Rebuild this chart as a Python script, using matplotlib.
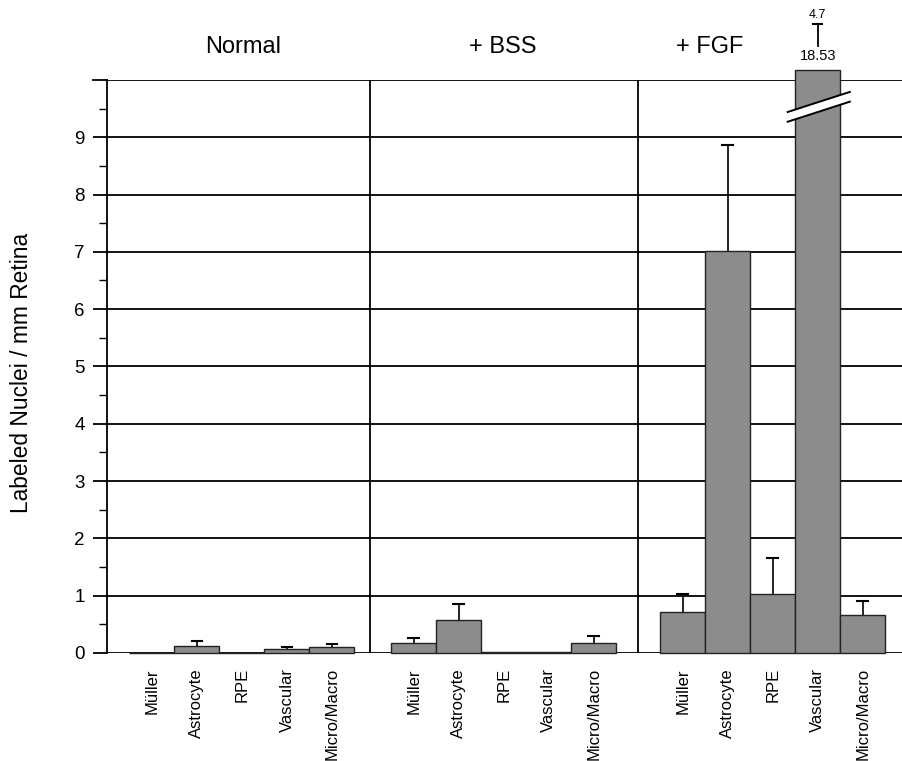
import matplotlib
matplotlib.use("Agg")
import matplotlib.pyplot as plt
import numpy as np
from matplotlib.patches import Polygon

plt.rcParams['font.family'] = ['Liberation Sans', 'DejaVu Sans']

groups = ["Normal", "+ BSS", "+ FGF"]
cells = ["Müller", "Astrocyte", "RPE", "Vascular", "Micro/Macro"]
means = {
    "Normal": [0.0, 0.12, 0.0, 0.07, 0.10],
    "+ BSS": [0.17, 0.57, 0.02, 0.02, 0.17],
    "+ FGF": [0.71, 7.02, 1.02, 18.53, 0.66],
}
errs = {
    "Normal": [0.0, 0.08, 0.0, 0.03, 0.05],
    "+ BSS": [0.09, 0.28, 0.0, 0.0, 0.13],
    "+ FGF": [0.31, 1.85, 0.63, 4.7, 0.24],
}
ymax = 10
yticks = list(range(0, 10))

fig = plt.figure(figsize=(9.02, 7.61), dpi=100)
ax = fig.add_axes([0.1186, 0.142, 0.8814, 0.753])

group_offsets = [0.0, 5.82, 11.8]
separators = [4.84, 10.8]
bar_color = "#8c8c8c"
display_cap = 10.17

for g, off in zip(groups, group_offsets):
    xs = off + np.arange(len(cells))
    vals = np.array(means[g])
    shown = np.minimum(vals, display_cap)
    ax.bar(xs, shown, width=1.0, color=bar_color, edgecolor="#222222",
           linewidth=1.0, zorder=3, clip_on=False)
    for x, v, e, s in zip(xs, vals, errs[g], shown):
        if e > 0 and v <= ymax:
            ax.plot([x, x], [v, v + e], color="black", lw=1.2, zorder=2)
            ax.plot([x - 0.12, x + 0.12], [v + e, v + e], color="black", lw=1.5, zorder=2)

# broken Vascular bar (+FGF)
xv = group_offsets[2] + 3
vv = means["+ FGF"][3]
ev = errs["+ FGF"][3]
x0, x1 = xv - 0.67, xv + 0.71
yl0, yl1 = 9.27, 9.62
thick = 0.17
band = Polygon([[x0, yl0], [x1, yl1], [x1, yl1 + thick], [x0, yl0 + thick]],
               closed=True, facecolor="white", edgecolor="none", zorder=5, clip_on=False)
ax.add_patch(band)
ax.plot([x0, x1], [yl0, yl1], color="black", lw=1.4, zorder=6)
ax.plot([x0, x1], [yl0 + thick, yl1 + thick], color="black", lw=1.4, zorder=6)

ax.text(xv, 10.3, f"{vv:.2f}", ha="center", va="bottom", fontsize=10.5, clip_on=False)
ax.plot([xv, xv], [10.6, 10.97], color="black", lw=1.3, clip_on=False)
ax.plot([xv - 0.1, xv + 0.1], [10.97, 10.97], color="black", lw=1.5, clip_on=False)
ax.text(xv, 11.02, f"{ev}", ha="center", va="bottom", fontsize=9, clip_on=False)

# grid lines
for y in range(0, ymax + 1):
    ax.axhline(y, color="black", lw=1.3, zorder=1)
for s in separators:
    ax.axvline(s, color="black", lw=1.3, zorder=1)

xlim_left = -1.0
ax.set_xlim(xlim_left, 16.67)
ax.set_ylim(0, ymax)

for sp in ["top", "right", "bottom"]:
    ax.spines[sp].set_visible(False)
ax.spines["left"].set_linewidth(1.3)

ax.set_yticks(yticks)
ax.set_yticks(np.arange(0.5, 10, 1.0), minor=True)
ax.tick_params(axis="y", which="major", length=10, width=1.3, direction="out",
               labelsize=13.5, pad=6)
ax.tick_params(axis="y", which="minor", length=5.5, width=1.0, direction="out")
ax.plot([xlim_left - 0.31, xlim_left], [ymax, ymax], color="black", lw=1.3, clip_on=False)

allx = []
alll = []
for off in group_offsets:
    allx.extend(off + np.arange(len(cells)))
    alll.extend(cells)
ax.set_xticks(allx)
ax.set_xticklabels(alll, rotation=90, fontsize=12)
ax.tick_params(axis="x", length=0, pad=11)

fig.text(22 / 902, 1 - 373 / 761, "Labeled Nuclei / mm Retina", rotation=90,
         ha="center", va="center", fontsize=16.4)

title_x = [243, 503, 710]
for g, tx in zip(groups, title_x):
    fig.text(tx / 902, 1 - 47 / 761, g, ha="center", va="center", fontsize=17)

fig.savefig("out.png", dpi=100)
